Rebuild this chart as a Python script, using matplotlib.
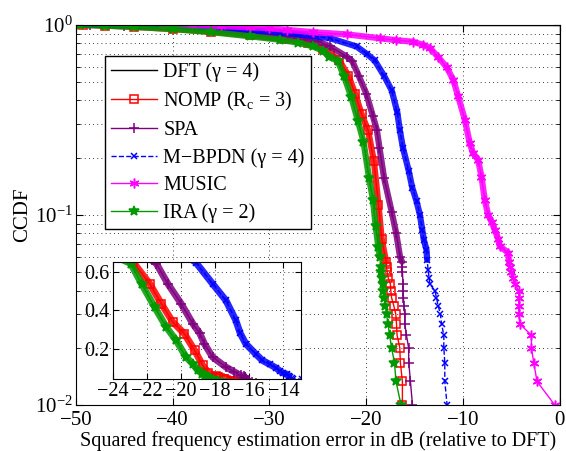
import numpy as np
import matplotlib
matplotlib.use('Agg')
import matplotlib.pyplot as plt
from matplotlib.ticker import LogLocator, NullFormatter

plt.rcParams['font.family'] = ['Liberation Serif', 'DejaVu Serif']
plt.rcParams['mathtext.fontset'] = 'custom'
plt.rcParams['mathtext.rm'] = 'Liberation Serif'
plt.rcParams['mathtext.it'] = 'Liberation Serif:italic'
plt.rcParams['font.size'] = 15

# CCDF of squared frequency error (dB, relative to DFT)
dft_err = [-50, 0, 0]
dft_ccdf = [1.0, 1.0, 1e-3]

nomp_err = [-49.3, -47, -44, -40, -36, -32, -28.5, -26, -24.5, -23.76, -22.8,
            -21.83, -21.15, -20.48, -19.8, -19.2, -18.73, -18.4,
            -17.95, -17.9, -17.84, -17.73, -17.5, -17.46, -17.38, -17.15,
            -16.94, -16.87, -16.81, -16.53, -16.47, -16.26, -16.26]
nomp_ccdf = [1.0, 0.99, 0.975, 0.95, 0.92, 0.88, 0.84, 0.8, 0.75, 0.71, 0.652,
             0.539, 0.435, 0.339, 0.278, 0.191, 0.113, 0.075,
             0.0567, 0.0533, 0.05, 0.0467, 0.0433, 0.04, 0.0367, 0.0333,
             0.03, 0.0267, 0.0233, 0.02, 0.0167, 0.0133, 0.01]

spa_err = [-48.5, -45, -40, -35, -31, -27.5, -25, -23.76, -22.0, -21.44,
           -20.77, -19.99, -19.31, -18.9, -18.63, -18.15, -17.37, -16.9, -16.5,
           -16.3, -16.26, -16.26, -16.19, -16.19, -16.15, -16.12, -16.01,
           -16.01, -15.84, -15.62, -15.6, -15.43, -15.22]
spa_ccdf = [1.0, 0.99, 0.975, 0.95, 0.91, 0.87, 0.82, 0.77, 0.68, 0.644,
            0.539, 0.435, 0.331, 0.28, 0.226, 0.156, 0.104, 0.08, 0.06,
            0.0567, 0.0533, 0.05, 0.0433, 0.04, 0.0367, 0.0333, 0.03,
            0.0267, 0.0233, 0.02, 0.0167, 0.0133, 0.01]

mbpdn_err = [-49, -45, -40, -35, -31, -27, -23.76, -21.0, -19.9, -19.12,
             -18.15, -17.37, -16.79, -16.53, -16.21, -15.6, -15.24, -14.8,
             -14.45, -14.2, -14.05, -13.77, -13.7, -13.6, -13.5, -13.43,
             -12.91, -12.74, -12.57, -12.33, -12.22, -11.98, -11.98, -11.88,
             -11.88, -11.64]
mbpdn_ccdf = [1.0, 0.995, 0.985, 0.965, 0.93, 0.89, 0.851, 0.769, 0.7, 0.649,
              0.539, 0.452, 0.348, 0.28, 0.226, 0.17, 0.139, 0.118,
              0.1, 0.083, 0.074, 0.0655, 0.058, 0.051, 0.0467, 0.0433,
              0.04, 0.0367, 0.0333, 0.03, 0.0267, 0.0233, 0.02, 0.0167,
              0.0133, 0.01]

music_err = [-41, -38, -35, -32, -30, -28.2, -25.5, -22, -18.6, -16.9, -15.2,
             -14.1, -13.4, -12.6, -11.7, -11.0, -10.5, -9.8, -9.3, -8.96,
             -8.44, -8.09, -7.75, -7.4, -7.05, -6.7, -6.37, -6.2, -5.34,
             -5.24, -5.1, -5.0, -4.82, -4.65, -4.24, -4.24, -4.24, -4.24,
             -4.13, -2.93, -2.93, -2.69, -2.35, -0.52]
music_ccdf = [1.0, 0.995, 0.985, 0.97, 0.96, 0.94, 0.915, 0.89, 0.85, 0.83, 0.815,
              0.785, 0.754, 0.68, 0.6, 0.513, 0.42, 0.316, 0.238, 0.211,
              0.195, 0.159, 0.12, 0.1, 0.092, 0.083, 0.075, 0.0685, 0.0633,
              0.0567, 0.0533, 0.05, 0.0467, 0.0433, 0.04, 0.0367, 0.0333, 0.03,
              0.0267, 0.0233, 0.02, 0.0167, 0.0133, 0.01]

ira_err = [-49.6, -47, -44, -40, -36, -32, -28.9, -27, -25.5, -24.5, -23.8, -22.94,
           -22.31, -21.54, -20.86, -20.28, -19.7, -19.3, -19.02, -18.75, -18.6,
           -18.5, -18.45, -18.38, -18.3, -18.22, -18.12, -18.02, -17.9, -17.75,
           -17.58, -17.38, -17.08, -16.92, -16.4]
ira_ccdf = [1.0, 0.99, 0.975, 0.95, 0.915, 0.87, 0.834, 0.805, 0.77, 0.73, 0.68, 0.644,
            0.539, 0.417, 0.313, 0.243, 0.156, 0.12, 0.087, 0.068, 0.06,
            0.0533, 0.05, 0.0467, 0.0433, 0.04, 0.0367, 0.0333, 0.03, 0.0267,
            0.0233, 0.02, 0.0167, 0.0133, 0.01]

series = [
    ('NOMP (R$_\\mathrm{c}$ = 3)', nomp_err, nomp_ccdf, '#ff0000', 's', 6, '-', 'none'),
    ('SPA', spa_err, spa_ccdf, '#7f007f', '+', 7, '-', None),
    ('M\u2212BPDN (\u03b3 = 4)', mbpdn_err, mbpdn_ccdf, '#0000ff', 'x', 5, '--', None),
    ('MUSIC', music_err, music_ccdf, '#ff00ff', (6, 2, 0), 7, '-', None),
    ('IRA (\u03b3 = 2)', ira_err, ira_ccdf, '#009900', '*', 7, '-', None),
]


def draw(ax, err, ccdf, color, marker, ms, ls, mfc, label=None, band=4.5):
    err = np.array(err)
    ccdf = np.array(ccdf)
    dense = ccdf >= 0.055
    ax.plot(err[dense], ccdf[dense], color=color, lw=band, alpha=0.85,
            solid_capstyle='round', solid_joinstyle='round')
    ax.plot(err, ccdf, color=color, ls=ls, lw=1, marker=marker, ms=ms,
            mfc=mfc, mew=1.1, label=label)


fig = plt.figure(figsize=(5.66, 4.51), dpi=100)
ax = fig.add_axes([0.134, 0.102, 0.855, 0.843])

ax.plot(dft_err, dft_ccdf, color='k', lw=1, label='DFT (\u03b3 = 4)')
for lab, e, c, col, mk, ms, ls, mfc in series:
    draw(ax, e, c, col, mk, ms, ls, mfc, label=lab)

ax.set_yscale('log')
ax.set_xlim(-50, 0)
ax.set_ylim(1e-2, 1)
ax.set_xticks(np.arange(-50, 1, 10))
ax.yaxis.set_major_locator(LogLocator(base=10, numticks=10))
ax.yaxis.set_minor_locator(LogLocator(base=10, subs=np.arange(2, 10), numticks=10))
ax.yaxis.set_minor_formatter(NullFormatter())
ax.tick_params(which='both', direction='in', top=True, right=True)
ax.tick_params(which='major', length=5)
ax.tick_params(which='minor', length=3)
ax.tick_params(axis='y', pad=2)
ax.tick_params(axis='x', pad=4)
ax.grid(True, which='major', axis='both', color='k', ls=(0, (1, 4)), lw=0.6)
ax.grid(True, which='minor', axis='y', color='k', ls=(0, (1, 4)), lw=0.6)
ax.set_xlabel('Squared frequency estimation error in dB (relative to DFT)',
              labelpad=1, fontsize=14.5)
ax.set_ylabel('CCDF', labelpad=2)

leg = ax.legend(loc='upper left', bbox_to_anchor=(0.06, 0.918), borderaxespad=0,
                fancybox=False, edgecolor='k', framealpha=1, handlelength=2.3,
                labelspacing=0.4, borderpad=0.3, handletextpad=0.3,
                fontsize=14.5)
leg.get_frame().set_linewidth(1.0)

# zoomed inset, linear scale
ins = fig.add_axes([0.199, 0.159, 0.332, 0.259])
for lab, e, c, col, mk, ms, ls, mfc in series:
    draw(ins, e, c, col, mk, ms, ls, mfc, band=5)
ins.set_xlim(-24, -13)
ins.set_ylim(0.04, 0.65)
ins.set_xticks(np.arange(-24, -13, 2))
ins.set_yticks([0.2, 0.4, 0.6])
ins.tick_params(which='both', direction='in', top=True, right=True, length=4,
                pad=2, labelsize=14.5)
ins.grid(True, color='k', ls=(0, (1, 4)), lw=0.6)

fig.savefig('out.png', dpi=100)
